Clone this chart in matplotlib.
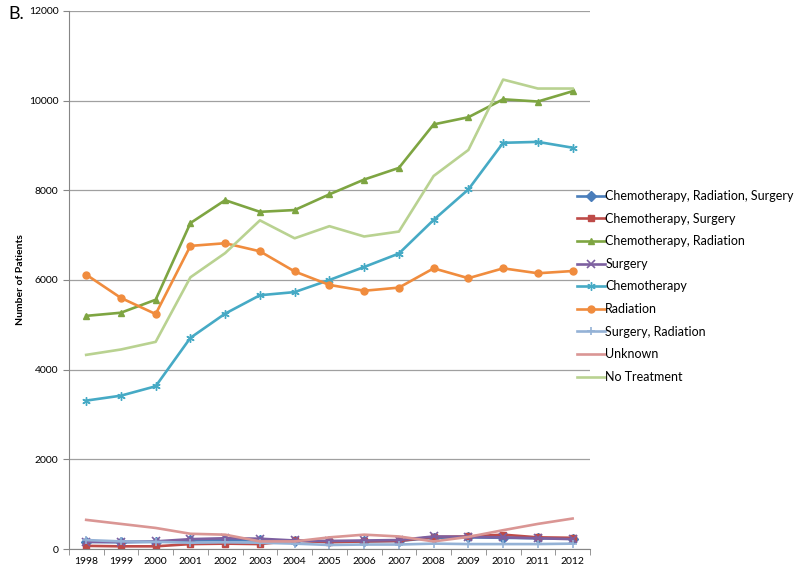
import matplotlib
matplotlib.use("Agg")
from matplotlib import pyplot as plt
import numpy

years = [str(y) for y in range(1998, 2013)]

chemo_rad_surg = [160, 150, 160, 190, 200, 190, 180, 170, 170, 180, 250, 260, 250, 240, 230]
chemo_surg = [70, 60, 60, 110, 120, 110, 190, 150, 170, 180, 270, 280, 320, 260, 250]
chemo_rad = [5200, 5270, 5560, 7270, 7780, 7520, 7560, 7910, 8240, 8500, 9470, 9630, 10030, 9980, 10210]
surgery = [160, 160, 170, 220, 240, 230, 190, 180, 190, 200, 280, 270, 260, 240, 220]
chemo = [3310, 3420, 3630, 4710, 5250, 5660, 5730, 6000, 6290, 6590, 7340, 8020, 9060, 9080, 8950]
radiation = [6120, 5600, 5240, 6760, 6820, 6640, 6190, 5890, 5760, 5830, 6260, 6040, 6260, 6150, 6200]
surg_rad = [200, 170, 160, 140, 150, 140, 120, 90, 100, 100, 120, 110, 110, 110, 120]
unknown = [650, 560, 470, 340, 320, 170, 170, 260, 320, 280, 170, 270, 420, 560, 680]
no_treatment = [4330, 4450, 4620, 6060, 6600, 7330, 6930, 7200, 6970, 7080, 8320, 8900, 10470, 10270, 10270]

series = [
    ("Chemotherapy, Radiation, Surgery", chemo_rad_surg, "#4A7EBB", "D"),
    ("Chemotherapy, Surgery", chemo_surg, "#BE4B48", "s"),
    ("Chemotherapy, Radiation", chemo_rad, "#7EA542", "^"),
    ("Surgery", surgery, "#7D60A0", "x"),
    ("Chemotherapy", chemo, "#46AAC5", "*"),
    ("Radiation", radiation, "#F08C3E", "o"),
    ("Surgery, Radiation", surg_rad, "#94B2D6", "+"),
    ("Unknown", unknown, "#DA9694", None),
    ("No Treatment", no_treatment, "#B9D291", None),
]

plt.rcParams['font.family'] = ['Lato', 'DejaVu Sans']

fig = plt.figure(figsize=(8, 5.77), dpi=100)
ax = fig.add_axes([0.086, 0.0485, 0.6515, 0.9325])

x = numpy.arange(len(years))
for name, vals, col, mk in series:
    if mk == "*":
        ax.plot(x, vals, color=col, lw=1.9, marker=(6, 2, 0), ms=6, mew=1.0, label=name)
    elif mk in ("x", "+"):
        ax.plot(x, vals, color=col, lw=1.9, marker=mk, ms=6, mew=1.2, label=name)
    elif mk is None:
        ax.plot(x, vals, color=col, lw=1.9, label=name)
    else:
        ax.plot(x, vals, color=col, lw=1.9, marker=mk, ms=5, mec=col, label=name)

ax.set_xlim(-0.5, 14.5)
ax.set_ylim(0, 12000)
ax.set_yticks(range(0, 12001, 2000))
ax.set_xticks(x)
ax.set_xticklabels(years)
ax.set_xticks(numpy.arange(-0.5, 15, 1), minor=True)
ax.tick_params(axis='x', which='major', length=0, labelsize=7.5, pad=6)
ax.tick_params(axis='x', which='minor', length=4, color='#868686')
ax.tick_params(axis='y', length=4, color='#868686', labelsize=7.5)
ax.yaxis.grid(True, color='#A0A0A0', lw=0.9)
ax.set_axisbelow(True)
for s in ['top', 'right']:
    ax.spines[s].set_visible(False)
for s in ['left', 'bottom']:
    ax.spines[s].set_color('#868686')
ax.set_ylabel('Number of Patients', fontsize=7.5, fontweight='bold', labelpad=3)

fig.text(0.01, 0.975, 'B.', fontsize=13, va='center')

fig.legend(loc='upper left', bbox_to_anchor=(572 / 800, 1 - 185 / 577), frameon=False,
           fontsize=9, handlelength=2.2, handletextpad=0.05, labelspacing=0.85,
           borderaxespad=0.0)

fig.savefig('out.png', dpi=100)
